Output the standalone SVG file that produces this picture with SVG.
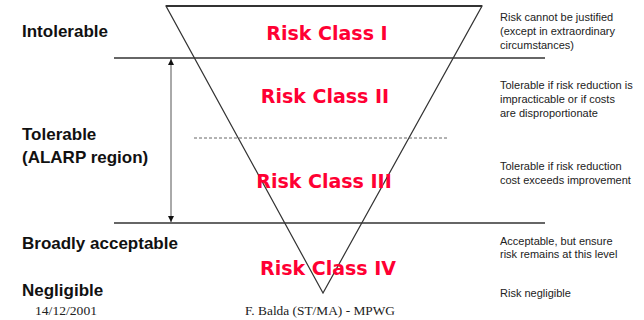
<svg xmlns="http://www.w3.org/2000/svg" width="644" height="320" viewBox="0 0 644 320">
<style>
.lvl{font-family:"Liberation Sans",Arial,sans-serif;font-weight:bold;font-size:17px;fill:#111}
.rc{font-family:"DejaVu Sans",Verdana,sans-serif;font-weight:bold;font-size:19px;fill:#ff0033;text-anchor:middle}
.note{font-family:"Liberation Sans",Arial,sans-serif;font-size:11px;fill:#222}
.foot{font-family:"Liberation Serif","Times New Roman",serif;font-size:13.5px;fill:#222}
.ln{stroke:#333;fill:none}
</style>
<defs>
<marker id="ah" viewBox="0 0 10 10" refX="10" refY="5" markerWidth="6" markerHeight="6" orient="auto-start-reverse" markerUnits="userSpaceOnUse">
<path d="M0,0 L10,5 L0,10 z" fill="#111"/>
</marker>
</defs>
<rect width="644" height="320" fill="#fff"/>
<g id="connectors">
<polygon class="ln" points="166,6 482,6 323,293" stroke-width="1.2"/>
<line class="ln" x1="166" y1="6" x2="482" y2="6" stroke-width="2" stroke="#555"/>
<line class="ln" x1="114" y1="58" x2="545" y2="58" stroke-width="1.5"/>
<line class="ln" x1="114" y1="223" x2="545" y2="223" stroke-width="1.5"/>
<line x1="194" y1="138" x2="447" y2="138" stroke="#666" stroke-width="1" stroke-dasharray="3,2"/>
<line x1="171" y1="59" x2="171" y2="222" stroke="#555" stroke-width="1" marker-start="url(#ah)" marker-end="url(#ah)"/>
</g>
<g id="levels">
<text class="lvl" x="22" y="37">Intolerable</text>
<text class="lvl" x="22" y="140">Tolerable</text>
<text class="lvl" x="22" y="163">(ALARP region)</text>
<text class="lvl" x="22" y="249">Broadly acceptable</text>
<text class="lvl" x="22" y="296">Negligible</text>
</g>
<g id="classes">
<text class="rc" x="327" y="40">Risk Class I</text>
<text class="rc" x="325" y="103">Risk Class II</text>
<text class="rc" x="324" y="188">Risk Class III</text>
<text class="rc" x="328" y="275">Risk Class IV</text>
</g>
<g id="notes">
<text class="note" x="500" y="21">Risk cannot be justified</text>
<text class="note" x="500" y="35">(except in extraordinary</text>
<text class="note" x="500" y="49">circumstances)</text>
<text class="note" x="500" y="89">Tolerable if risk reduction is</text>
<text class="note" x="500" y="103">impracticable or if costs</text>
<text class="note" x="500" y="117">are disproportionate</text>
<text class="note" x="500" y="170">Tolerable if risk reduction</text>
<text class="note" x="500" y="184">cost exceeds improvement</text>
<text class="note" x="500" y="245">Acceptable, but ensure</text>
<text class="note" x="500" y="258">risk remains at this level</text>
<text class="note" x="500" y="297">Risk negligible</text>
</g>
<g id="footer">
<text class="foot" x="35" y="315" textLength="62" lengthAdjust="spacingAndGlyphs">14/12/2001</text>
<text class="foot" x="245" y="315" textLength="150" lengthAdjust="spacingAndGlyphs">F. Balda (ST/MA) - MPWG</text>
</g>
</svg>
